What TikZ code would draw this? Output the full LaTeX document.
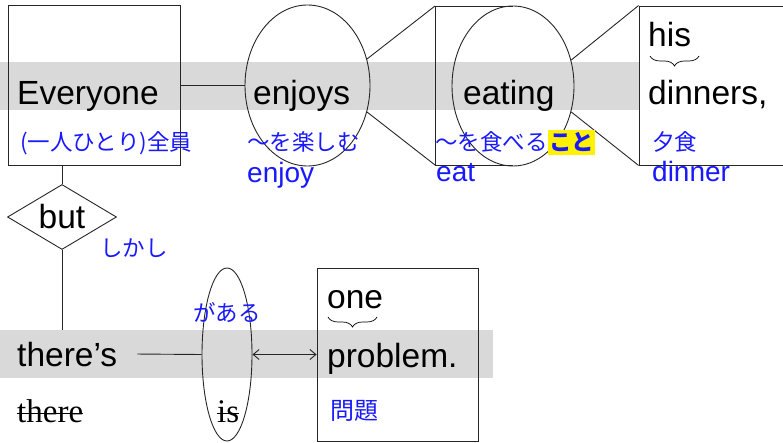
\documentclass[tikz,border=0pt]{standalone}
\usepackage{fontspec}
\setmainfont{Liberation Sans}
\newfontfamily\jpfont{Noto Sans CJK JP}
\newfontfamily\seriffont{Liberation Serif}
\usetikzlibrary{shapes.geometric,decorations.pathreplacing,arrows.meta}
\definecolor{bandgray}{RGB}{217,217,217}
\definecolor{jpblue}{RGB}{25,25,255}
\tikzset{
  word/.style={inner sep=0pt, anchor=base west, font=\fontsize{33.5}{38}\selectfont},
  gloss/.style={inner sep=0pt, anchor=base west, text=jpblue, font=\jpfont\fontsize{22.5}{26}\selectfont},
  glossen/.style={inner sep=0pt, anchor=base west, text=jpblue, font=\fontsize{28}{32}\selectfont},
  struck/.style={inner sep=0pt, anchor=base west, font=\seriffont\fontsize{33}{36}\selectfont},
  boxline/.style={line width=0.9pt, draw=black!85},
  strikeline/.style={line width=1pt},
  underbrace/.style={decorate, decoration={brace, mirror, amplitude=10pt}, line width=0.7pt},
}
\begin{document}
\begin{tikzpicture}[x=1pt,y=-1pt]
    \useasboundingbox (0,0) rectangle (783,443);
    \clip (0,0) rectangle (783,443);
    % 灰色带
    \fill[bandgray] (0,62) rectangle (640,110);
    \fill[bandgray] (0,330) rectangle (493,378);
    % 上面的框和椭圆
    \node[draw, boxline, minimum width=172pt, minimum height=160pt, inner sep=0pt] (everyone) at (94,85.5) {};
    \node[draw, boxline, ellipse, minimum width=125pt, minimum height=161pt, inner sep=0pt] (enjoys) at (307.5,85.5) {};
    \coordinate (eatTL) at (435,6);
    \coordinate (eatBL) at (435,165);
    \coordinate (eatTR) at (513,6);
    \coordinate (eatBR) at (513,165);
    \draw[boxline] (eatTR) -- (eatTL) -- (eatBL) -- (eatBR);
    \node[draw, boxline, ellipse, minimum width=122pt, minimum height=160pt, inner sep=0pt] (eating) at (513,86) {};
    \node[draw, boxline, minimum width=200pt, minimum height=159pt, inner sep=0pt] (dinners) at (739,85.5) {};
    % 连线
    \draw[boxline] (everyone.east) -- (enjoys.west);
    \draw[boxline] (enjoys.24) -- (eatTL);
    \draw[boxline] (enjoys.-24) -- (eatBL);
    \draw[boxline] (eating.24) -- (dinners.north west);
    \draw[boxline] (eating.-24) -- (dinners.south west);
    % 单词
    \node[word] (everyoneTxt) at (17,105) {Everyone};
    \node[word] (enjoysTxt) at (253,105) {enjoys};
    \node[word] (eatingTxt) at (463,105) {eating};
    \node[word] (hisTxt) at (648,47) {his};
    \node[word] (dinnersTxt) at (648,105) {dinners,};
    \coordinate (hisL) at (650,56);
    \coordinate (hisR) at (699,56);
    \draw[underbrace] (hisL) -- (hisR);
    % 注释
    \node[gloss] (zenin) at (20,151) {(一人ひとり)全員};
    \node[gloss] (tanoshimu) at (247,151) {〜を楽しむ};
    \node[glossen] (enjoyEn) at (247,183) {enjoy};
    \node[gloss] (taberu) at (435,151) {〜を食べる};
    \node[gloss, fill=yellow, inner xsep=1pt, inner ysep=3pt, font=\jpfont\bfseries\fontsize{22.5}{26}\selectfont] (koto) at (taberu.base east) {こと};
    \node[glossen] (eatEn) at (436,182) {eat};
    \node[gloss] (yushoku) at (652,151) {夕食};
    \node[glossen] (dinnerEn) at (652,182) {dinner};
    % 下面部分
    \node[draw, boxline, diamond, aspect=1.68, minimum width=109pt, minimum height=65pt, inner sep=0pt, font=\fontsize{33.5}{38}\selectfont] (but) at (62,217) {but};
    \draw[boxline] (but.north) -- (but.north |- everyone.south);
    \coordinate (bandTop) at (62,330);
    \draw[boxline] (but.south) -- (bandTop);
    \node[gloss] (shikashi) at (100,257) {しかし};
    \node[word] (theres) at (17,366) {there’s};
    \node[draw, boxline, ellipse, minimum width=50pt, minimum height=173pt, inner sep=0pt] (is) at (227,354.5) {};
    \node[draw, boxline, minimum width=161pt, minimum height=173pt, inner sep=0pt] (problem) at (397.5,354.5) {};
    \draw[boxline] ([xshift=20pt]theres.east) -- (is.west);
    \draw[boxline, {Straight Barb[length=6pt,width=10pt]}-{Straight Barb[length=6pt,width=10pt]}] (is.east) -- (problem.west);
    \node[gloss, anchor=base] (ga) at (227,321) {がある};
    \node[word] (oneTxt) at (327,308) {one};
    \coordinate (oneL) at (328,317);
    \coordinate (oneR) at (377,317);
    \draw[underbrace] (oneL) -- (oneR);
    \node[word] (problemTxt) at (327,367) {problem.};
    \node[gloss, font=\jpfont\fontsize{24}{28}\selectfont] (mondai) at (330,419) {問題};
    % 删除线
    \node[struck] (there) at (17,422) {there};
    \node[struck] (isTxt) at (217,422) {is};
    \draw[strikeline] ([yshift=9pt]there.base west) -- ([yshift=9pt]there.base east);
    \draw[strikeline] ([yshift=9pt]isTxt.base west) -- ([yshift=9pt]isTxt.base east);
\end{tikzpicture}
\end{document}
